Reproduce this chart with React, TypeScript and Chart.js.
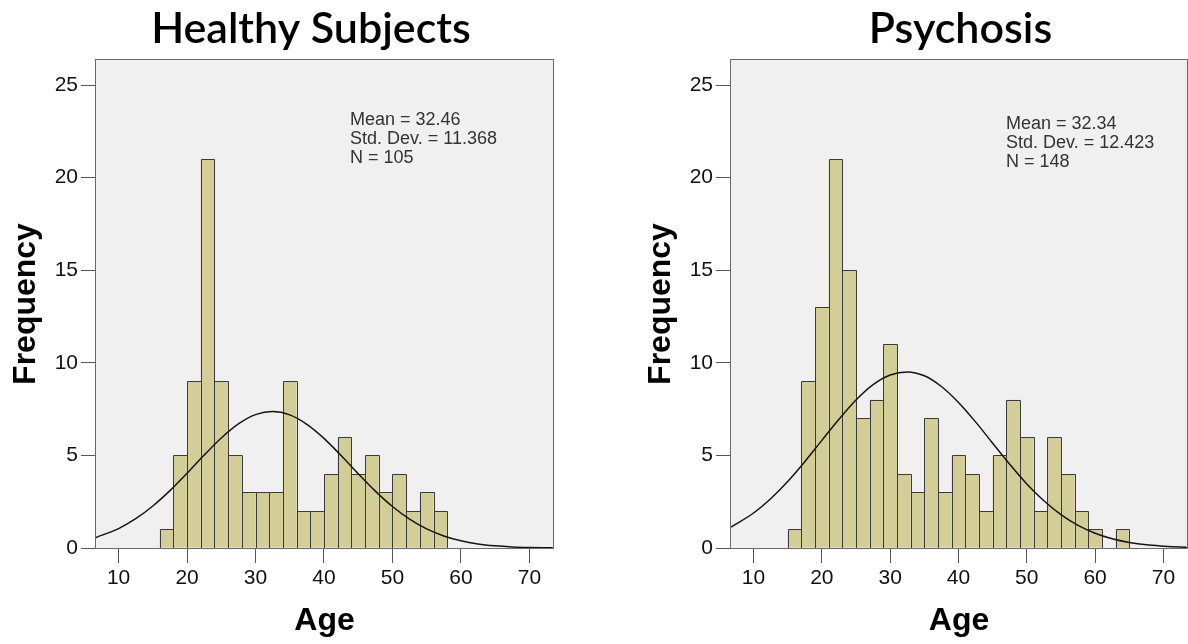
import React, { useEffect, useRef } from "react";
import { Chart, registerables } from "chart.js";

Chart.register(...registerables);

// ---------- data ----------
const BIN_WIDTH = 2;

const healthyBinStarts = [16, 18, 20, 22, 24, 26, 28, 30, 32, 34, 36, 38, 40, 42, 44, 46, 48, 50, 52, 54, 56];
const healthyCounts = [1, 5, 9, 21, 9, 5, 3, 3, 3, 9, 2, 2, 4, 6, 4, 5, 3, 4, 2, 3, 2];

const psychosisBinStarts = [15, 17, 19, 21, 23, 25, 27, 29, 31, 33, 35, 37, 39, 41, 43, 45, 47, 49, 51, 53, 55, 57, 59, 61, 63];
const psychosisCounts = [1, 9, 13, 21, 15, 7, 8, 11, 4, 3, 7, 3, 5, 4, 2, 5, 8, 6, 2, 6, 4, 2, 1, 0, 1];

// fitted normal curve, read at these ages
const curveAges = [6.7, 10, 12.5, 15, 17.5, 20, 22.5, 25, 27.5, 30, 32.5, 35, 37.5, 40, 42.5, 45, 47.5, 50, 52.5, 55, 57.5, 60, 62.5, 65, 67.5, 70, 72.5, 73.4];
const healthyCurve = [0.57, 1.05, 1.58, 2.27, 3.10, 4.04, 5.02, 5.94, 6.70, 7.20, 7.37, 7.19, 6.68, 5.92, 4.99, 4.01, 3.07, 2.24, 1.56, 1.03, 0.65, 0.39, 0.22, 0.12, 0.06, 0.03, 0.015, 0.011];
const psychosisCurve = [1.13, 1.89, 2.66, 3.59, 4.66, 5.81, 6.95, 7.99, 8.82, 9.34, 9.51, 9.30, 8.72, 7.86, 6.81, 5.66, 4.52, 3.46, 2.55, 1.80, 1.22, 0.80, 0.50, 0.30, 0.17, 0.10, 0.05, 0.04];

const healthyStats = ["Mean = 32.46", "Std. Dev. = 11.368", "N = 105"];
const psychosisStats = ["Mean = 32.34", "Std. Dev. = 12.423", "N = 148"];

const xTickValues = [10, 20, 30, 40, 50, 60, 70];
const yTickValues = [0, 5, 10, 15, 20, 25];

const X_MIN = 6.7;
const X_MAX = 73.45;
const Y_MAX = 26.35;

const SANS = '"Liberation Sans", Arial, sans-serif';

type HistProps = {
  left: number;
  width: number;
  title: string;
  titleX: number;
  padRight: number;
  binStarts: number[];
  counts: number[];
  curve: number[];
  stats: string[];
  statsX: number;
  statsY: number;
};

function Histogram(props: HistProps) {
  const ref = useRef<HTMLCanvasElement | null>(null);

  useEffect(() => {
    const canvas = ref.current;
    if (!canvas) return;

    const decorPlugin = {
      id: "spssDecor",
      beforeDatasetsDraw(chart: any) {
        const { ctx, chartArea } = chart;
        ctx.save();
        ctx.fillStyle = "#F0F0F0";
        ctx.fillRect(chartArea.left, chartArea.top, chartArea.right - chartArea.left, chartArea.bottom - chartArea.top);
        ctx.restore();
      },
      afterDatasetDraw(chart: any, args: any) {
        const meta = args.meta;
        if (meta.type !== "bar") return;
        const ctx = chart.ctx;
        ctx.save();
        ctx.strokeStyle = "#3a3a3a";
        ctx.lineWidth = 1;
        meta.data.forEach((el: any, i: number) => {
          if (!props.counts[i]) return;
          const { x, y, base, width } = el.getProps(["x", "y", "base", "width"], true);
          const l = Math.round(x - width / 2);
          const r = Math.round(x + width / 2);
          const t = Math.round(y);
          const b = Math.round(base);
          ctx.beginPath();
          ctx.moveTo(l + 0.5, b);
          ctx.lineTo(l + 0.5, t + 0.5);
          ctx.lineTo(r + 0.5, t + 0.5);
          ctx.lineTo(r + 0.5, b);
          ctx.stroke();
        });
        ctx.restore();
      },
      afterDraw(chart: any) {
        const { ctx, chartArea } = chart;
        ctx.save();
        ctx.strokeStyle = "#6a6a6a";
        ctx.lineWidth = 1;
        const l = Math.round(chartArea.left) - 0.5;
        const t = Math.round(chartArea.top) - 0.5;
        const r = Math.round(chartArea.right) + 0.5;
        const b = Math.round(chartArea.bottom) + 0.5;
        ctx.strokeRect(l, t, r - l, b - t);

        // chart title
        ctx.fillStyle = "#000";
        ctx.font = "600 43px Lato, sans-serif";
        ctx.textAlign = "center";
        ctx.textBaseline = "alphabetic";
        ctx.fillText(props.title, props.titleX, 43);

        // statistics box
        ctx.fillStyle = "#333333";
        ctx.font = "18px " + SANS;
        ctx.textAlign = "left";
        props.stats.forEach((line, i) => {
          ctx.fillText(line, props.statsX, props.statsY + i * 19);
        });
        ctx.restore();
      },
    };

    const chart = new Chart(canvas, {
      type: "bar",
      data: {
        datasets: [
          {
            type: "line",
            data: curveAges.map((a, i) => ({ x: a, y: props.curve[i] })),
            borderColor: "#151515",
            borderWidth: 1.5,
            pointRadius: 0,
            fill: false,
            cubicInterpolationMode: "monotone",
            order: 0,
          } as any,
          {
            type: "bar",
            data: props.binStarts.map((s, i) => ({ x: s + BIN_WIDTH / 2, y: props.counts[i] })),
            backgroundColor: "#D3CE97",
            borderWidth: 0,
            barPercentage: 1,
            categoryPercentage: 1,
            inflateAmount: 0,
            order: 1,
          } as any,
        ],
      },
      options: {
        responsive: false,
        maintainAspectRatio: false,
        animation: false,
        devicePixelRatio: 1,
        layout: { padding: { left: 0, right: props.padRight, top: 60, bottom: 0 } },
        plugins: {
          legend: { display: false },
          tooltip: { enabled: false },
          title: { display: false },
        },
        scales: {
          x: {
            type: "linear",
            min: X_MIN,
            max: X_MAX,
            offset: false,
            afterBuildTicks: (s: any) => {
              s.ticks = xTickValues.map((v) => ({ value: v }));
            },
            afterFit: (s: any) => {
              s.height = 96;
            },
            grid: { offset: false, drawOnChartArea: false, drawTicks: true, tickLength: 15, color: "#555" },
            border: { display: false },
            ticks: { autoSkip: false, maxRotation: 0, padding: 3, color: "#111", font: { family: SANS, size: 21 } },
            title: {
              display: true,
              text: "Age",
              color: "#000",
              font: { family: SANS, size: 32, weight: "bold", lineHeight: 1.2 },
              padding: { top: 0, bottom: 4 },
            },
          },
          y: {
            type: "linear",
            min: 0,
            max: Y_MAX,
            afterBuildTicks: (s: any) => {
              s.ticks = yTickValues.map((v) => ({ value: v }));
            },
            afterFit: (s: any) => {
              s.width = 96;
            },
            grid: { drawOnChartArea: false, drawTicks: true, tickLength: 15, color: "#555" },
            border: { display: false },
            ticks: { autoSkip: false, padding: 3, color: "#111", font: { family: SANS, size: 21 } },
            title: {
              display: true,
              text: "Frequency",
              color: "#000",
              font: { family: SANS, size: 32, weight: "bold", lineHeight: 1.2 },
              padding: { top: 7, bottom: 0 },
            },
          },
        },
      } as any,
      plugins: [decorPlugin],
    });

    return () => chart.destroy();
  }, []);

  return (
    <canvas
      ref={ref}
      width={props.width}
      height={644}
      style={{ position: "absolute", left: props.left, top: 0, width: props.width, height: 644 }}
    />
  );
}

export default function App() {
  return (
    <div
      style={{
        position: "absolute",
        left: 0,
        top: 0,
        width: 1188,
        height: 644,
        background: "#fff",
        overflow: "hidden",
      }}
    >
      <Histogram
        left={0}
        width={556}
        title="Healthy Subjects"
        titleX={311}
        padRight={3}
        binStarts={healthyBinStarts}
        counts={healthyCounts}
        curve={healthyCurve}
        stats={healthyStats}
        statsX={350}
        statsY={125}
      />
      <Histogram
        left={635}
        width={553}
        title="Psychosis"
        titleX={325.5}
        padRight={1}
        binStarts={psychosisBinStarts}
        counts={psychosisCounts}
        curve={psychosisCurve}
        stats={psychosisStats}
        statsX={371}
        statsY={129}
      />
    </div>
  );
}
